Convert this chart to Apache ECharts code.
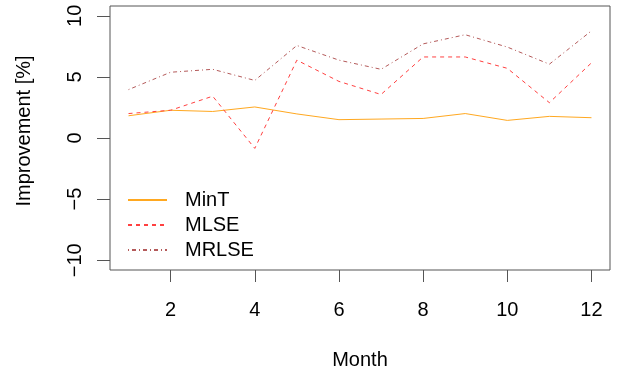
<!DOCTYPE html>
<html>
<head>
<meta charset="utf-8">
<script src="https://cdn.jsdelivr.net/npm/echarts@6/dist/echarts.min.js"></script>
<style>html,body{margin:0;padding:0;background:#fff}#c{width:619px;height:375px}</style>
</head>
<body>
<div id="c"></div>
<script>
var months = [1,2,3,4,5,6,7,8,9,10,11,12];
var minT  = [1.82, 2.27, 2.17, 2.54, 1.97, 1.50, 1.55, 1.60, 2.00, 1.44, 1.77, 1.66];
var mlse  = [2.00, 2.27, 3.42, -0.85, 6.37, 4.63, 3.56, 6.63, 6.63, 5.70, 2.89, 6.15];
var mrlse = [3.96, 5.38, 5.62, 4.71, 7.57, 6.37, 5.62, 7.70, 8.45, 7.44, 6.04, 8.77];
var xTicks = [2,4,6,8,10,12];
var yTicks = [-10,-5,0,5,10];
var seriesNames = ['MinT','MLSE','MRLSE'];

function pairs(v){ return months.map(function(m,i){ return [m, v[i]]; }); }
var font = 'Liberation Sans, Arial, sans-serif';
var chart = echarts.init(document.getElementById('c'), null, {renderer:'canvas'});
chart.setOption({
  animation:false,
  backgroundColor:'#fff',
  grid:{left:110, right:9, top:6, bottom:101, show:true, borderColor:'#555', borderWidth:1, backgroundColor:'transparent'},
  xAxis:{
    type:'value', min:0.56, max:12.44,
    name:'Month', nameLocation:'middle', nameGap:80,
    nameTextStyle:{fontFamily:font, fontSize:20, color:'#000'},
    axisLine:{show:false, onZero:false},
    splitLine:{show:false},
    axisTick:{show:true, inside:false, length:12, customValues:xTicks, lineStyle:{color:'#555'}},
    axisLabel:{customValues:xTicks, margin:30, fontFamily:font, fontSize:20, color:'#000'}
  },
  yAxis:{
    type:'value', min:-10.8, max:10.8,
    name:'Improvement [%]', nameLocation:'middle', nameGap:76,
    nameTextStyle:{fontFamily:font, fontSize:20, color:'#000', padding:[0,0,0,14]},
    axisLine:{show:false, onZero:false},
    splitLine:{show:false},
    axisTick:{show:true, inside:false, length:13, customValues:yTicks, lineStyle:{color:'#555'}},
    axisLabel:{customValues:yTicks, rotate:90, margin:25, fontFamily:font, fontSize:20, color:'#000',
      formatter:function(v){ return v<0 ? '\u2212'+Math.abs(v) : String(v); }}
  },
  legend:{
    orient:'vertical', left:127, top:190, padding:0, itemWidth:39, itemHeight:14, itemGap:5,
    itemStyle:{opacity:0},
    textStyle:{fontFamily:font, fontSize:20, color:'#000', padding:[0,0,0,13]},
    data:seriesNames
  },
  series:[
    {name:seriesNames[0], type:'line', data:pairs(minT), symbol:'none', lineStyle:{color:'#FFA820', width:1}, itemStyle:{color:'#FFA820'}},
    {name:seriesNames[1], type:'line', data:pairs(mlse), symbol:'none', lineStyle:{color:'#FF4040', width:1, type:[4,4]}, itemStyle:{color:'#FF4040'}},
    {name:seriesNames[2], type:'line', data:pairs(mrlse), symbol:'none', lineStyle:{color:'#B45A5A', width:1, type:[1,3,4,3]}, itemStyle:{color:'#B45A5A'}}
  ]
});
</script>
</body>
</html>
